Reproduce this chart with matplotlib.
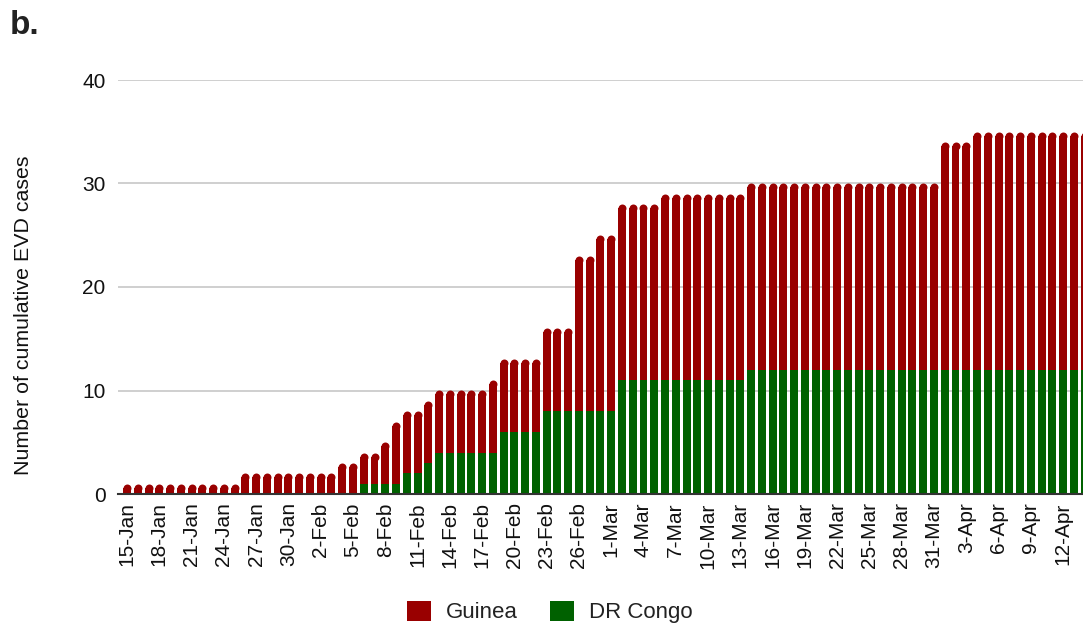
import matplotlib
matplotlib.use("Agg")
import matplotlib.pyplot as plt
import numpy as np
import pandas as pd

plt.rcParams['font.family'] = ['Liberation Sans', 'DejaVu Sans']

dates = pd.date_range("2021-01-15", "2021-04-14", freq="D")
total = ([1] * 11 + [2] * 9 + [3] * 2 + [4] * 2 + [5] + [7] + [8] * 2 + [9] +
         [10] * 5 + [11] + [13] * 4 + [16] * 3 + [23] * 2 + [25] * 2 + [28] * 4 +
         [29] * 8 + [30] * 18 + [34] * 3 + [35] * 11)
dr_congo = ([0] * 22 + [1] * 4 + [2] * 2 + [3] + [4] * 6 + [6] * 4 + [8] * 7 +
            [11] * 12 + [12] * 32)
total = np.array(total)
dr_congo = np.array(dr_congo)
guinea = total - dr_congo
labels = [f"{d.day}-{d.strftime('%b')}" for d in dates]

W, H = 1083, 624
fig = plt.figure(figsize=(W / 100, H / 100), dpi=100)
ax_left, ax_bottom, ax_w, ax_h = 118, 130, W - 118, 414
ax = fig.add_axes([ax_left / W, ax_bottom / H, ax_w / W, ax_h / H])

XMIN, XMAX, YMAX = -0.84, 88.85, 40
px_x = ax_w / (XMAX - XMIN)
px_y = ax_h / YMAX
bw = 0.74
r_px = bw * px_x / 2
r_units = r_px / px_y

x = np.arange(len(dates))
green = "#006100"
red = "#990000"
ax.bar(x, dr_congo, width=bw, color=green, label="DR Congo", zorder=3, linewidth=0)
ax.bar(x, guinea - r_units, bottom=dr_congo, width=bw, color=red, label="Guinea",
       zorder=3, linewidth=0)
diam_pt = 2 * r_px * 72 / 100
ax.scatter(x, total - r_units, s=diam_pt ** 2, color=red, marker="o",
           linewidths=0, zorder=3, clip_on=False)

ax.set_ylim(0, YMAX)
ax.set_xlim(XMIN, XMAX)
ax.set_yticks([0, 10, 20, 30, 40])
ax.yaxis.grid(True, color="#cccccc", linewidth=1.3, zorder=0)
ax.set_axisbelow(True)
for s in ["top", "right", "left"]:
    ax.spines[s].set_visible(False)
ax.spines["bottom"].set_color("#333333")
ax.spines["bottom"].set_linewidth(1.5)
ax.spines["bottom"].set_zorder(4)
ax.tick_params(axis="y", length=0, labelsize=15, pad=9, labelcolor="#111111")
ax.tick_params(axis="x", length=0, labelsize=15, pad=6, labelcolor="#111111")
ax.set_xticks(x[::3])
ax.set_xticklabels(labels[::3], rotation=90)
ax.set_ylabel("Number of cumulative EVD cases", fontsize=15.4, color="#111111")
ax.yaxis.set_label_coords(-0.088, 0.432)

fig.text(10 / W, 1 - 25 / H, "b.", fontsize=24, fontweight="bold", va="center", ha="left",
         color="#222222")

handles, lbls = ax.get_legend_handles_labels()
leg = fig.legend(handles[::-1], lbls[::-1], loc="center", bbox_to_anchor=(550 / W, 1 - 612 / H),
                 ncol=2, frameon=False, fontsize=16, handlelength=1.05, handleheight=1.0,
                 columnspacing=1.45, handletextpad=0.7, labelcolor="#222222")

fig.savefig("out.png", dpi=100)
